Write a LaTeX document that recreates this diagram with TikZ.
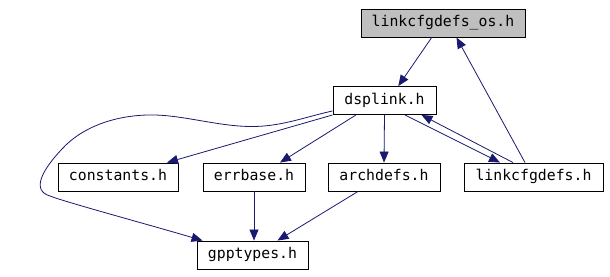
\documentclass[tikz,border=0pt]{standalone}
\usepackage{fontspec}
\newfontfamily\codefont{DejaVu Sans Mono}
\usetikzlibrary{arrows.meta,calc}
\definecolor{edgeblue}{HTML}{191970}
\definecolor{rootgray}{HTML}{BFBFBF}

\begin{document}
\begin{tikzpicture}[x=1pt,y=-1pt,
  file/.style={draw=black, fill=white, line width=0.9pt, minimum height=28pt,
    inner sep=0pt, font=\codefont\fontsize{14.8}{16}\selectfont,
    text height=10.5pt, text depth=3pt},
  dep/.style={draw=edgeblue, line width=0.8pt,
    -{Triangle[length=11pt,width=9pt]}}]
\useasboundingbox (0,0) rectangle (610,276);

% header files
\node[file, fill=rootgray, minimum width=164pt] (os) at (443,23) {linkcfgdefs\_os.h};
\node[file, minimum width=103pt] (dsplink) at (384.5,100.5) {dsplink.h};
\node[file, minimum width=120pt] (constants) at (118,177) {constants.h};
\node[file, minimum width=102pt] (errbase) at (254,177) {errbase.h};
\node[file, minimum width=112pt] (archdefs) at (384,177) {archdefs.h};
\node[file, minimum width=139pt] (linkcfgdefs) at (533.5,177) {linkcfgdefs.h};
\node[file, minimum width=111pt] (gpptypes) at (252.5,255) {gpptypes.h};

% include dependencies
\draw[dep] ($(os.south)+(-11.3,0)$) -- ($(dsplink.north)+(13.8,0)$);
\draw[dep] ($(linkcfgdefs.north)+(-8.5,0)$) -- ($(os.south)+(13.5,0)$);
\draw[dep] (dsplink.south west) -- ($(constants.north)+(49,0)$);
\draw[dep] ($(dsplink.south)+(-28.5,0)$) -- ($(errbase.north)+(26,0)$);
\draw[dep] (dsplink.south) -- (archdefs.north);
\draw[dep] ($(dsplink.south)+(20.5,0)$) -- ($(linkcfgdefs.north)+(-33.5,0)$);
\draw[dep] ($(linkcfgdefs.north)+(-20.5,0)$) -- ($(dsplink.south)+(37,0)$);
\draw[dep] (errbase.south) -- (errbase.south |- gpptypes.north);
\draw[dep] ($(archdefs.south)+(-26,0)$) -- ($(gpptypes.north)+(25,0)$);
\draw[dep] ($(dsplink.south west)+(0,-4)$)
  .. controls (305,117) and (280,127) .. (250,126.5)
  .. controls (215,126) and (180,114) .. (147,115)
  .. controls (114,116) and (82,127) .. (62,149)
  .. controls (44,168) and (30,190) .. (50,196)
  .. controls (65,202) and (150,225) .. ($(gpptypes.north west)+(6,0)$);
\end{tikzpicture}
\end{document}
